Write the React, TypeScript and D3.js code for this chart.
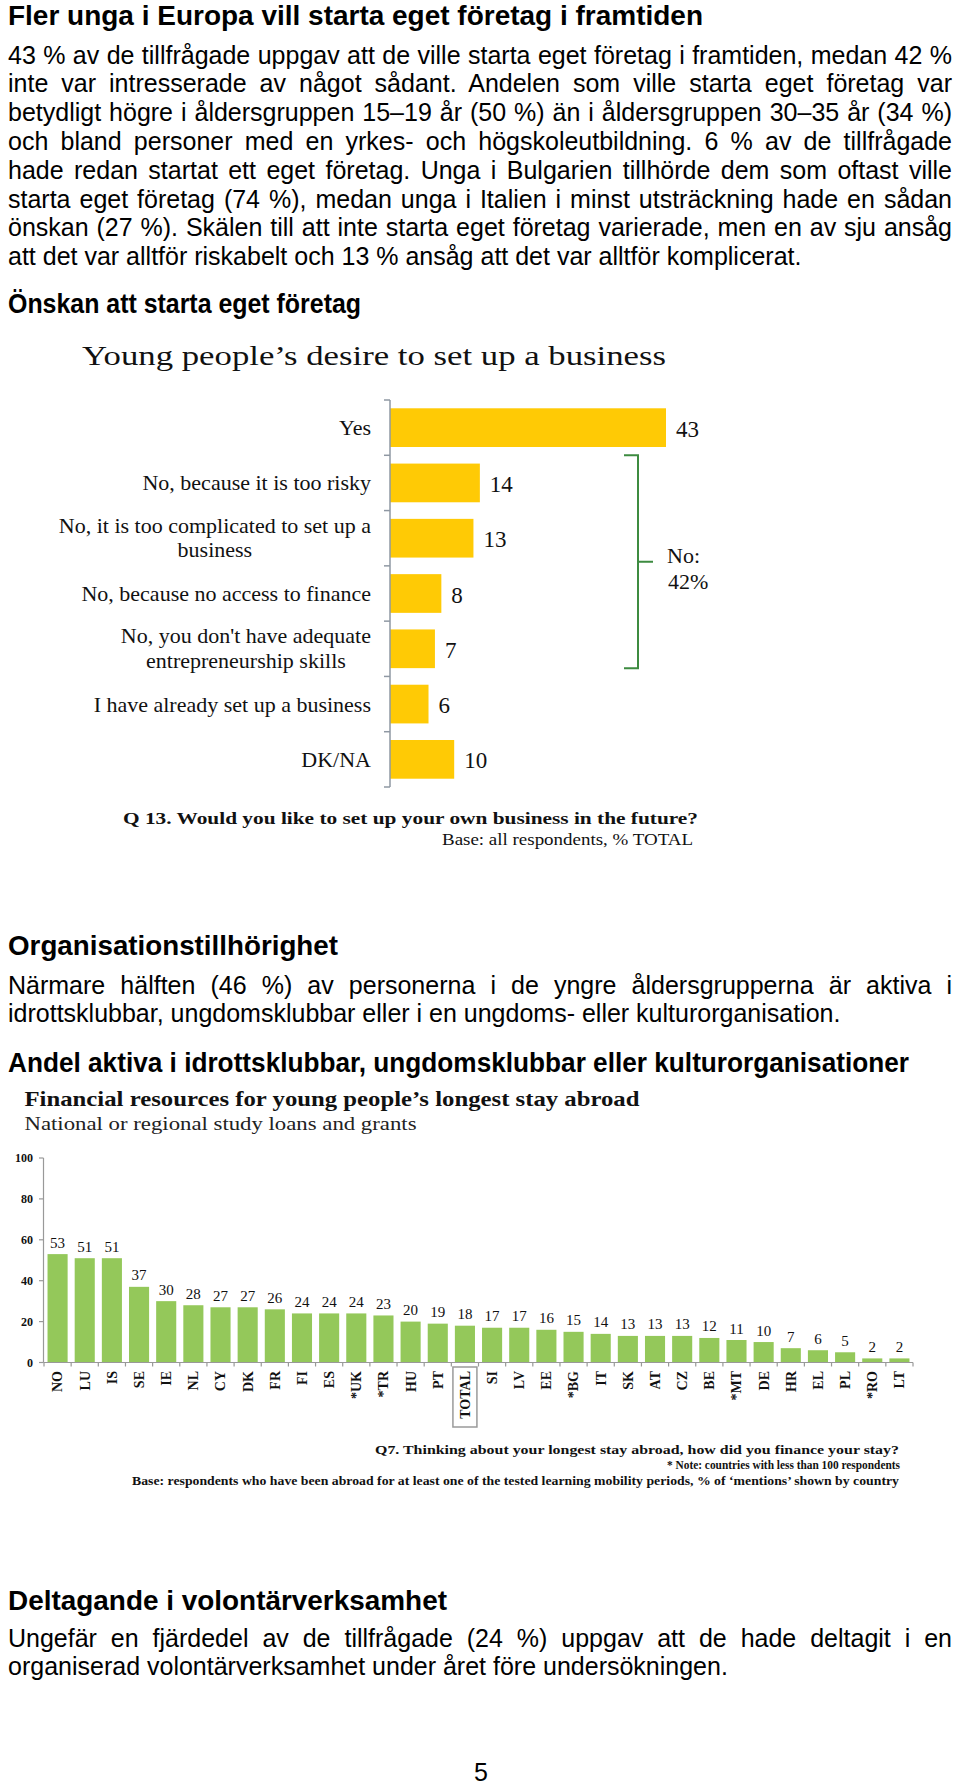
import React, { useLayoutEffect, useRef } from "react";
import * as d3 from "d3";

const W = 960;
const H = 1785;

// ---------- text content ----------
const pageTitle = "Fler unga i Europa vill starta eget företag i framtiden";
const para1Lines = [
  "43 % av de tillfrågade uppgav att de ville starta eget företag i framtiden, medan 42 %",
  "inte var intresserade av något sådant. Andelen som ville starta eget företag var",
  "betydligt högre i åldersgruppen 15–19 år (50 %) än i åldersgruppen 30–35 år (34 %)",
  "och bland personer med en yrkes- och högskoleutbildning. 6 % av de tillfrågade",
  "hade redan startat ett eget företag. Unga i Bulgarien tillhörde dem som oftast ville",
  "starta eget företag (74 %), medan unga i Italien i minst utsträckning hade en sådan",
  "önskan (27 %). Skälen till att inte starta eget företag varierade, men en av sju ansåg",
  "att det var alltför riskabelt och 13 % ansåg att det var alltför komplicerat.",
];
const heading1 = "Önskan att starta eget företag";
const heading2 = "Organisationstillhörighet";
const para2Lines = [
  "Närmare hälften (46 %) av personerna i de yngre åldersgrupperna är aktiva i",
  "idrottsklubbar, ungdomsklubbar eller i en ungdoms- eller kulturorganisation.",
];
const heading3 = "Andel aktiva i idrottsklubbar, ungdomsklubbar eller kulturorganisationer";
const heading4 = "Deltagande i volontärverksamhet";
const para3Lines = [
  "Ungefär en fjärdedel av de tillfrågade (24 %) uppgav att de hade deltagit i en",
  "organiserad volontärverksamhet under året före undersökningen.",
];
const pageNumber = "5";

// ---------- chart 1 data ----------
const chart1Title = "Young people\u2019s desire to set up a business";
const reasonCategories = [
  "Yes",
  "No, because it is too risky",
  "No, it is too complicated to set up a business",
  "No, because no access to finance",
  "No, you don't have adequate entrepreneurship skills",
  "I have already set up a business",
  "DK/NA",
];
const reasonLabelLines = [
  ["Yes"],
  ["No, because it is too risky"],
  ["No, it is too complicated to set up a", "business"],
  ["No, because no access to finance"],
  ["No, you don't have adequate", "entrepreneurship skills"],
  ["I have already set up a business"],
  ["DK/NA"],
];
const reasonValues = [43, 14, 13, 8, 7, 6, 10];
const noBracketLabel = ["No:", "42%"];
const chart1Question = "Q 13. Would you like to set up your own business in the future?";
const chart1Base = "Base: all respondents, % TOTAL";

// ---------- chart 2 data ----------
const chart2Title = "Financial resources for young people\u2019s longest stay abroad";
const chart2Subtitle = "National or regional study loans and grants";
const countries = [
  "NO", "LU", "IS", "SE", "IE", "NL", "CY", "DK", "FR", "FI", "ES", "*UK", "*TR", "HU", "PT", "TOTAL",
  "SI", "LV", "EE", "*BG", "IT", "SK", "AT", "CZ", "BE", "*MT", "DE", "HR", "EL", "PL", "*RO", "LT",
];
const loanValues = [
  53, 51, 51, 37, 30, 28, 27, 27, 26, 24, 24, 24, 23, 20, 19, 18,
  17, 17, 16, 15, 14, 13, 13, 13, 12, 11, 10, 7, 6, 5, 2, 2,
];
const yTicks = [0, 20, 40, 60, 80, 100];
const chart2Notes = [
  "Q7. Thinking about your longest stay abroad, how did you finance your stay?",
  "* Note: countries with less than 100 respondents",
  "Base: respondents who have been abroad for at least one of the tested learning mobility periods, % of \u2018mentions\u2019 shown by country",
];

const SANS = "'Liberation Sans', Arial, sans-serif";
const SERIF = "'Liberation Serif', 'Times New Roman', serif";

export default function App() {
  const ref = useRef<SVGSVGElement>(null);

  useLayoutEffect(() => {
    const svg = d3.select(ref.current);
    const apply = () => {
      svg.selectAll<SVGTextElement, unknown>("text[data-justify]").each(function () {
        const el = d3.select(this);
        el.style("word-spacing", "0px");
        const target = +(el.attr("data-justify") || 0);
        const natural = this.getComputedTextLength();
        const txt = this.textContent || "";
        const n = (txt.match(/ /g) || []).length;
        if (n > 0) el.style("word-spacing", `${(target - natural) / n}px`);
      });
      svg.selectAll<SVGGElement, unknown>("g.ml-label").each(function () {
        const g = d3.select(this);
        const texts = g.selectAll<SVGTextElement, unknown>("text");
        let maxW = 0;
        texts.each(function () {
          maxW = Math.max(maxW, this.getComputedTextLength());
        });
        const right = +(g.attr("data-right") || 0);
        texts.attr("text-anchor", "middle").attr("x", right - maxW / 2);
      });
    };
    apply();
    const f = (document as any).fonts;
    if (f && f.ready) f.ready.then(apply);
  }, []);

  // body text helpers
  const bodyLeft = 8;
  const bodyRight = 952;
  const lineH = 28.8;

  const renderPara = (lines: string[], firstBaseline: number) =>
    lines.map((l, i) => (
      <text
        key={i}
        x={bodyLeft}
        y={firstBaseline + i * lineH}
        fontFamily={SANS}
        fontSize={25}
        fill="#000"
        {...(i < lines.length - 1 ? { "data-justify": bodyRight - bodyLeft } : {})}
      >
        {l}
      </text>
    ));

  // ---------- chart 1 scales ----------
  const y1 = d3
    .scaleBand<string>()
    .domain(reasonCategories)
    .range([400, 787])
    .paddingInner(0.3)
    .paddingOuter(0.15);
  const x1 = d3.scaleLinear().domain([0, 43]).range([390, 666]);
  const step1 = y1.step();
  const boundaries1 = reasonCategories.map((c) => (y1(c) as number) - step1 * 0.15).concat([787]);
  const bracketTop = (y1(reasonCategories[1]) as number) - step1 * 0.15;
  const bracketBottom = (y1(reasonCategories[4]) as number) + y1.bandwidth();
  const bracketX = x1(reasonValues[0]) - 28;
  const bracketMid = (bracketTop + bracketBottom) / 2;
  const labelRight = 371;

  // ---------- chart 2 scales ----------
  const x2 = d3
    .scaleBand<string>()
    .domain(countries)
    .range([44, 913])
    .paddingInner(0.26)
    .paddingOuter(0.13);
  const y2 = d3.scaleLinear().domain([0, 100]).range([1362.5, 1158]);
  const step2 = x2.step();
  const bw2 = x2.bandwidth();
  const boundaries2 = countries.map((c) => (x2(c) as number) - step2 * 0.13).concat([913]);

  return (
    <svg
      ref={ref}
      width={W}
      height={H}
      viewBox={`0 0 ${W} ${H}`}
      style={{ position: "absolute", left: 0, top: 0, background: "#fff" }}
    >
      <rect x={0} y={0} width={W} height={H} fill="#fff" />

      {/* ---------- Section 1 text ---------- */}
      <text x={8} y={24.5} fontFamily={SANS} fontWeight="bold" fontSize={27.5} textLength={695} lengthAdjust="spacingAndGlyphs">
        {pageTitle}
      </text>
      {renderPara(para1Lines, 63.5)}
      <text x={8} y={313} fontFamily={SANS} fontWeight="bold" fontSize={27} textLength={353} lengthAdjust="spacingAndGlyphs">
        {heading1}
      </text>

      {/* ---------- Chart 1 ---------- */}
      <g>
        <text x={82} y={365} fontFamily={SERIF} fontSize={27} textLength={584} lengthAdjust="spacingAndGlyphs" fill="#111">
          {chart1Title}
        </text>
        {reasonCategories.map((c, i) => (
          <rect
            key={c}
            x={x1(0)}
            y={y1(c) as number}
            width={x1(reasonValues[i]) - x1(0)}
            height={y1.bandwidth()}
            fill="#FFCA05"
          />
        ))}
        <line x1={390} x2={390} y1={400} y2={787} stroke="#8f98a3" strokeWidth={1.5} />
        {boundaries1.map((b, i) => (
          <line key={i} x1={384} x2={390} y1={b} y2={b} stroke="#8f98a3" strokeWidth={1.5} />
        ))}
        {reasonCategories.map((c, i) => {
          const cy = (y1(c) as number) + y1.bandwidth() / 2;
          const lines = reasonLabelLines[i];
          if (lines.length === 1) {
            return (
              <text key={c} x={labelRight} y={cy + 7.5} textAnchor="end" fontFamily={SERIF} fontSize={22} fill="#111">
                {lines[0]}
              </text>
            );
          }
          return (
            <g key={c} className="ml-label" data-right={labelRight}>
              {lines.map((l, j) => (
                <text key={j} x={labelRight} y={cy - 5.5 + j * 24.5} textAnchor="end" fontFamily={SERIF} fontSize={22} fill="#111">
                  {l}
                </text>
              ))}
            </g>
          );
        })}
        {reasonCategories.map((c, i) => (
          <text
            key={c}
            x={x1(reasonValues[i]) + 10}
            y={(y1(c) as number) + y1.bandwidth() / 2 + 9}
            fontFamily={SERIF}
            fontSize={23}
            fill="#111"
          >
            {reasonValues[i]}
          </text>
        ))}
        <path
          d={`M${bracketX - 14},${bracketTop} L${bracketX},${bracketTop} L${bracketX},${bracketBottom} L${bracketX - 14},${bracketBottom} M${bracketX},${bracketMid} L${bracketX + 15},${bracketMid}`}
          fill="none"
          stroke="#3d8b40"
          strokeWidth={2}
        />
        <text x={bracketX + 29} y={bracketMid + 1} fontFamily={SERIF} fontSize={22} fill="#111">
          {noBracketLabel[0]}
        </text>
        <text x={bracketX + 30} y={bracketMid + 27} fontFamily={SERIF} fontSize={22} fill="#111">
          {noBracketLabel[1]}
        </text>
        <text x={698} y={824} textAnchor="end" fontFamily={SERIF} fontWeight="bold" fontSize={17} textLength={575} lengthAdjust="spacingAndGlyphs" fill="#111">
          {chart1Question}
        </text>
        <text x={693} y={845} textAnchor="end" fontFamily={SERIF} fontSize={17} textLength={251} lengthAdjust="spacingAndGlyphs" fill="#111">
          {chart1Base}
        </text>
      </g>

      {/* ---------- Section 2 text ---------- */}
      <text x={8} y={955} fontFamily={SANS} fontWeight="bold" fontSize={27.5} textLength={330} lengthAdjust="spacingAndGlyphs">
        {heading2}
      </text>
      {renderPara(para2Lines, 993.5)}
      <text x={8} y={1072} fontFamily={SANS} fontWeight="bold" fontSize={27} textLength={901} lengthAdjust="spacingAndGlyphs">
        {heading3}
      </text>

      {/* ---------- Chart 2 ---------- */}
      <g>
        <text x={24.5} y={1106} fontFamily={SERIF} fontWeight="bold" fontSize={22} textLength={615} lengthAdjust="spacingAndGlyphs" fill="#111">
          {chart2Title}
        </text>
        <text x={24.5} y={1130} fontFamily={SERIF} fontSize={19} textLength={392} lengthAdjust="spacingAndGlyphs" fill="#222">
          {chart2Subtitle}
        </text>
        {countries.map((c, i) => (
          <rect
            key={c}
            x={x2(c) as number}
            y={y2(loanValues[i])}
            width={bw2}
            height={y2(0) - y2(loanValues[i])}
            fill="#94C85A"
          />
        ))}
        <line x1={43.5} x2={43.5} y1={1158} y2={y2(0)} stroke="#999" strokeWidth={1.2} />
        <line x1={43.5} x2={913} y1={y2(0)} y2={y2(0)} stroke="#999" strokeWidth={1.2} />
        {yTicks.map((t) => (
          <g key={t}>
            <line x1={39} x2={43.5} y1={y2(t)} y2={y2(t)} stroke="#999" strokeWidth={1.2} />
            <text x={33} y={y2(t)} dy="0.35em" textAnchor="end" fontFamily={SERIF} fontWeight="bold" fontSize={12} fill="#111">
              {t}
            </text>
          </g>
        ))}
        {boundaries2.map((b, i) => (
          <line key={i} x1={b} x2={b} y1={y2(0)} y2={y2(0) + 4} stroke="#999" strokeWidth={1.2} />
        ))}
        {countries.map((c, i) => (
          <text
            key={c}
            x={(x2(c) as number) + bw2 / 2}
            y={y2(loanValues[i]) - 6.5}
            textAnchor="middle"
            fontFamily={SERIF}
            fontSize={15}
            fill="#111"
          >
            {loanValues[i]}
          </text>
        ))}
        {countries.map((c) => {
          const cx = (x2(c) as number) + bw2 / 2;
          return (
            <text
              key={c}
              transform={`translate(${cx},1371) rotate(-90)`}
              dy="0.35em"
              textAnchor="end"
              fontFamily={SERIF}
              fontWeight="bold"
              fontSize={14}
              fill="#111"
            >
              {c}
            </text>
          );
        })}
        {countries
          .filter((c) => c === "TOTAL")
          .map((c) => (
            <rect
              key={c}
              x={(x2(c) as number) + bw2 / 2 - 12}
              y={1367}
              width={24}
              height={60}
              fill="none"
              stroke="#9a9a9a"
              strokeWidth={1.5}
            />
          ))}
        <text x={899} y={1454} textAnchor="end" fontFamily={SERIF} fontWeight="bold" fontSize={13.5} textLength={524} lengthAdjust="spacingAndGlyphs" fill="#111">
          {chart2Notes[0]}
        </text>
        <text x={900} y={1469} textAnchor="end" fontFamily={SERIF} fontWeight="bold" fontSize={13.5} textLength={233} lengthAdjust="spacingAndGlyphs" fill="#111">
          {chart2Notes[1]}
        </text>
        <text x={899} y={1485} textAnchor="end" fontFamily={SERIF} fontWeight="bold" fontSize={13.5} textLength={767} lengthAdjust="spacingAndGlyphs" fill="#111">
          {chart2Notes[2]}
        </text>
      </g>

      {/* ---------- Section 3 text ---------- */}
      <text x={8} y={1610} fontFamily={SANS} fontWeight="bold" fontSize={27.5} textLength={439} lengthAdjust="spacingAndGlyphs">
        {heading4}
      </text>
      {renderPara(para3Lines, 1646.5)}
      <text x={481} y={1781} textAnchor="middle" fontFamily={SANS} fontSize={25} fill="#000">
        {pageNumber}
      </text>
    </svg>
  );
}
